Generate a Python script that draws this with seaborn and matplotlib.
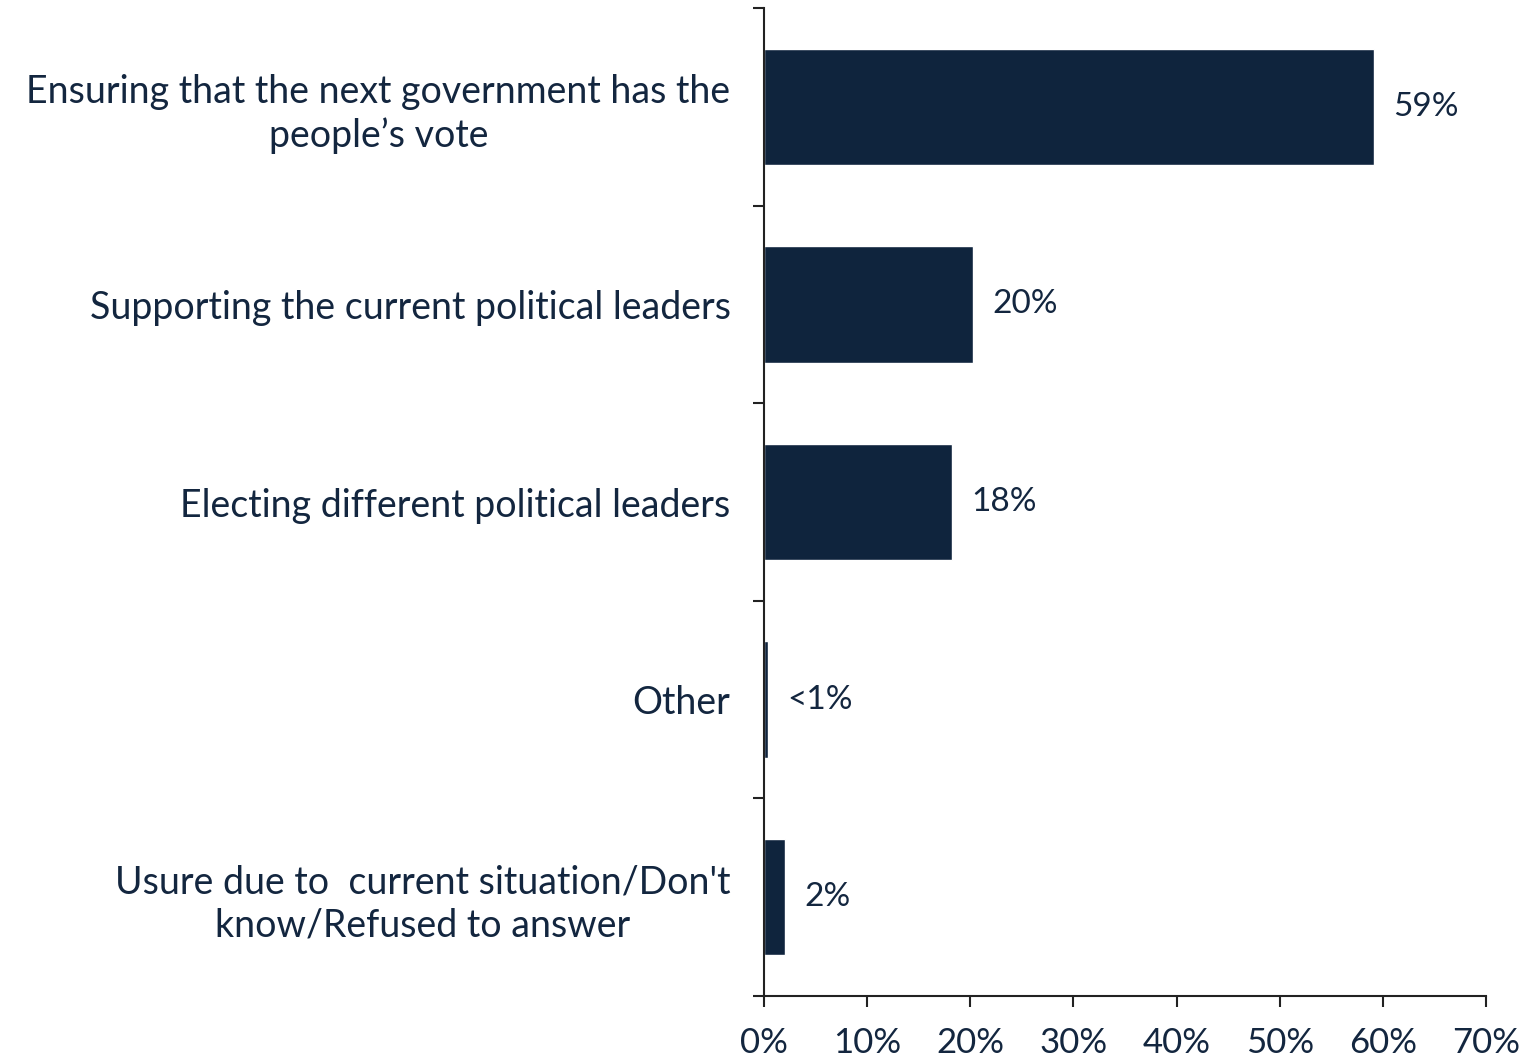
import pandas as pd
import matplotlib
matplotlib.use("Agg")
import matplotlib.pyplot as plt
import seaborn as sns

# --- DATA ---
categories = [
    "Ensuring that the next government has the\npeople\u2019s vote",
    "Supporting the current political leaders",
    "Electing different political leaders",
    "Other",
    "Usure due to  current situation/Don't\nknow/Refused to answer",
]
values = [59.1, 20.3, 18.2, 0.4, 2.0]
value_labels = ["59%", "20%", "18%", "<1%", "2%"]
x_ticks = [0, 10, 20, 30, 40, 50, 60, 70]

NAVY = "#0f243d"
TEXT = "#13263f"

sns.set_style("white")
plt.rcParams["font.family"] = ["Lato", "DejaVu Sans"]

df = pd.DataFrame({"cat": categories, "val": values})

fig = plt.figure(figsize=(15.27, 10.58), dpi=100)
ax = fig.add_axes([0.5003, 0.0586, 0.4728, 0.9338])

sns.barplot(data=df, x="val", y="cat", orient="h", color=NAVY,
            width=0.59, saturation=1, ax=ax)

ax.set_xlim(0, 70)
ax.set_ylim(4.5, -0.5)
ax.set_xticks(x_ticks)
ax.set_xticklabels([f"{t}%" for t in x_ticks])

# y ticks at category boundaries, labels at centers
ax.set_yticks([i - 0.5 for i in range(len(categories) + 1)], minor=False)
ax.set_yticklabels([])
ax.set_yticks(range(len(categories)), minor=True)
ax.set_yticklabels(categories, minor=True, fontsize=27, color=TEXT,
                   multialignment="center", linespacing=1.25)
ax.tick_params(axis="y", which="minor", left=True, length=0, pad=24)
ax.tick_params(axis="y", which="major", left=True, length=8, width=1.5,
               color="#222222", direction="out")
ax.tick_params(axis="x", bottom=True, length=8, width=1.5, color="#222222",
               direction="out", labelsize=25, labelcolor=TEXT, pad=14)

for side in ["top", "right"]:
    ax.spines[side].set_visible(False)
for side in ["left", "bottom"]:
    ax.spines[side].set_color("#222222")
    ax.spines[side].set_linewidth(1.5)

ax.set_xlabel("")
ax.set_ylabel("")

ax.bar_label(ax.containers[0], labels=value_labels, padding=14,
             fontsize=24, color=TEXT)

fig.savefig("out.png", dpi=100)
